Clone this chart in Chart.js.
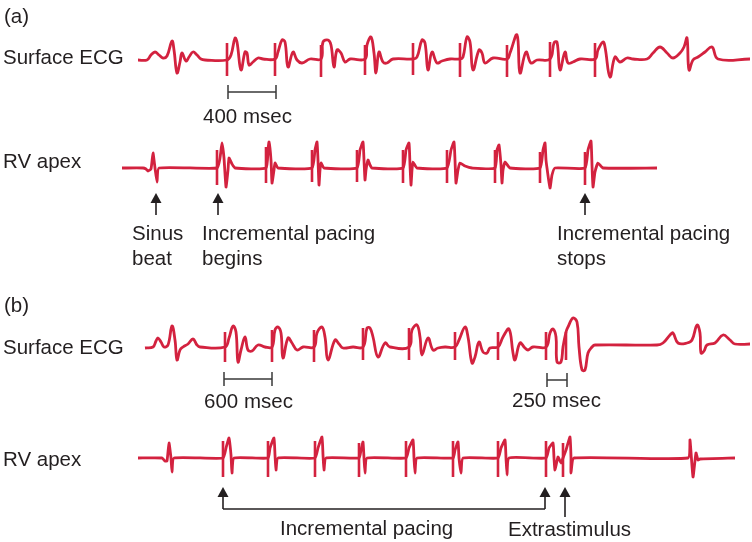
<!DOCTYPE html>
<html>
<head>
<meta charset="utf-8">
<script src="https://cdn.jsdelivr.net/npm/chart.js@4"></script>
<style>
html, body { margin: 0; padding: 0; background: #fff; }
#ecg { display: block; }
</style>
</head>
<body>
<canvas id="ecg" width="752" height="542"></canvas>
<script>
// traces as [time, level] (figure units)

// (a) surface ECG
const surfaceA = [
  [138,60],[147,60],[151,55],[155,52],[159,55],[163,58],[167,56],[172,41],[174,50],[177,73],[180,62],[182,53],[186,61],[189,57],[193,52],[197,55],[201,59],[205,60],[227,60],
  [231,55],[235,38],[237,42],[241,70],[245,52],[247,53],[249,65],[253,62],[258,58],[263,59],[275,59],
  [278,52],[282,40],[285,42],[288,67],[293,52],[297,60],[302,63],[310,59],[321,59],
  [323,42],[328,40],[331,45],[334,67],[337,50],[341,53],[345,62],[350,59],[365,59],
  [367,45],[371,37],[374,53],[376,73],[379,52],[383,62],[387,63],[393,59],[413,59],
  [417,57],[422,40],[425,43],[428,70],[432,52],[437,63],[442,61],[450,59],[460,59],
  [463,57],[467,37],[470,42],[473,70],[479,50],[482,53],[485,63],[493,58],[507,59],
  [510,53],[517,35],[520,73],[526,52],[531,63],[537,60],[550,59],
  [554,43],[557,42],[560,70],[565,52],[568,63],[573,62],[580,59],[595,59],
  [598,50],[603,42],[605,47],[610,77],[615,57],[620,62],[627,58],[633,59],[647,59],
  [653,53],[660,47],[667,53],[673,58],[680,53],[684,47],[687,38],[689,70],[693,60],[698,57],[705,52],[712,47],[718,59],[750,59]
];
// pacing artefacts: [time, top, bottom]
const spikesSurfaceA = [[227,43,76],[275,43,76],[321,45,77],[365,45,75],[413,43,75],[460,43,77],[507,45,77],[550,42,77],[595,43,77]];

// (a) RV apex
const rvA = [
  [122,168],[143,168],[146,169],[148,171],[151,169],[153,153],[155,168],[157,182],[159,168],[217,168],
  [220,158],[222,143],[224,158],[226,187],[228,170],[229,158],[232,164],[235,168],[266,168],
  [268,150],[269,142],[271,160],[272,183],[274,170],[275,163],[278,168],[312,168],
  [315,150],[317,142],[318,160],[319,185],[320,170],[321,163],[324,168],[357,168],
  [360,150],[363,142],[364,160],[365,180],[366,170],[368,160],[370,165],[372,168],[403,168],
  [406,150],[409,143],[410,165],[411,185],[412,170],[413,162],[417,168],[447,168],
  [451,150],[454,142],[455,160],[456,183],[458,170],[460,163],[465,166],[472,168],[495,168],
  [497,150],[499,145],[501,165],[502,183],[503,170],[505,162],[510,168],[540,168],
  [543,150],[545,143],[546,160],[547,168],[550,188],[552,175],[555,168],[585,168],
  [588,150],[591,141],[592,165],[593,187],[595,172],[598,163],[603,168],[657,168]
];
const spikesRvA = [[217,150,185],[266,147,183],[312,150,182],[357,150,182],[403,150,183],[447,150,183],[495,150,183],[540,152,183],[585,152,185]];

// (b) surface ECG
const surfaceB = [
  [145,348],[153,347],[156,341],[158,338],[161,342],[164,347],[168,345],[172,326],[175,340],[177,360],[180,350],[183,347],[188,344],[193,339],[197,345],[200,347],[225,347],
  [229,338],[233,326],[236,332],[238,362],[241,350],[245,337],[248,350],[252,351],[258,345],[265,347],[272,347],
  [275,330],[278,327],[281,333],[283,358],[288,338],[292,343],[297,350],[303,347],[314,347],
  [317,333],[322,327],[325,337],[328,360],[335,340],[339,344],[343,348],[353,347],[363,347],
  [367,328],[370,328],[373,337],[378,357],[385,343],[390,347],[409,347],
  [412,330],[417,325],[420,337],[422,355],[428,338],[433,350],[438,348],[445,347],[455,347],
  [459,340],[465,327],[468,337],[472,363],[475,357],[479,342],[483,352],[487,353],[490,348],[498,347],
  [503,337],[509,329],[513,353],[515,360],[520,343],[525,348],[528,350],[533,347],[546,347],
  [550,333],[553,329],[556,337],[557,362],[561,362],[563,347],[566,332],
  [568,327],[573,318],[577,322],[579,347],[582,370],[585,370],[588,353],[592,347],[595,345],[657,345],
  [663,343],[670,335],[673,333],[678,343],[687,343],[692,340],[697,325],[700,333],[701,353],[704,351],[707,345],[715,343],[723,335],[730,340],[735,344],[750,344]
];
const spikesSurfaceB = [[225,332,362],[272,330,362],[314,330,362],[363,328,360],[409,328,360],[455,332,360],[498,332,360],[546,332,360],[566,332,360]];

// (b) RV apex
const rvB = [
  [138,458],[162,458],[165,461],[167,461],[169,443],[171,458],[172,472],[174,458],[223,458],
  [226,448],[229,438],[231,455],[232,473],[234,458],[268,458],
  [270,448],[274,438],[275,455],[276,470],[278,458],[315,458],
  [318,448],[322,437],[323,455],[324,470],[326,458],[359,458],
  [361,450],[363,442],[364,458],[365,473],[367,458],[406,458],
  [409,448],[413,440],[414,458],[415,473],[417,458],[453,458],
  [455,450],[458,442],[459,458],[461,473],[463,458],[498,458],
  [501,448],[505,440],[506,458],[507,475],[509,458],[546,458],
  [549,448],[553,443],[554,458],[555,470],[558,457],[561,463],[563,458],
  [566,450],[570,437],[571,458],[571,473],[574,458],[688,458],
  [690,440],[693,477],[696,453],[698,460],[700,459],[735,458]
];
const spikesRvB = [[223,441,477],[268,441,477],[315,441,477],[359,443,477],[406,441,477],[453,441,477],[498,441,477],[546,441,477],[563,443,477]];

// text and markings
const texts = [
  ['(a)', 4, 23], ['Surface ECG', 3, 64], ['400 msec', 203, 123], ['RV apex', 3, 168],
  ['Sinus', 132, 240], ['beat', 132, 265], ['Incremental pacing', 202, 240], ['begins', 202, 265],
  ['Incremental pacing', 557, 240], ['stops', 557, 265],
  ['(b)', 4, 312], ['Surface ECG', 3, 354], ['600 msec', 204, 408], ['250 msec', 512, 407],
  ['RV apex', 3, 466], ['Incremental pacing', 280, 535], ['Extrastimulus', 508, 536]
];
// up arrows: [x, tip, foot]
const arrows = [[156,193,215],[218,193,215],[585,193,215],[223,487,509],[545,487,509],[565,487,517]];
// scale bars: [from, to, y, tick half height]
const scaleBars = [[228,276,92,7],[224,272,379,7],[547,567,380,7]];

const RED = '#d3223f';
const INK = '#231f20';
const FONT = '20.5px Arial, "Liberation Sans", Helvetica, sans-serif';

function toPoints(arr) {
  return arr.map(p => ({x: p[0], y: p[1]}));
}
function spikePoints(arr) {
  const out = [];
  arr.forEach(s => {
    out.push({x: s[0], y: s[1]}, {x: s[0], y: s[2]}, {x: s[0], y: null});
  });
  return out;
}
function trace(arr, tension) {
  return {data: toPoints(arr), borderColor: RED, borderWidth: 2.8, tension: tension, pointRadius: 0, fill: false};
}
function spikes(arr) {
  return {data: spikePoints(arr), borderColor: RED, borderWidth: 2.6, tension: 0, pointRadius: 0, spanGaps: false, fill: false};
}

const marks = {
  id: 'marks',
  afterDatasetsDraw(chart) {
    const ctx = chart.ctx;
    const sx = chart.scales.x, sy = chart.scales.y;
    const px = v => sx.getPixelForValue(v);
    const py = v => sy.getPixelForValue(v);
    ctx.save();
    ctx.fillStyle = INK;
    ctx.font = FONT;
    ctx.textBaseline = 'alphabetic';
    ctx.textAlign = 'left';
    texts.forEach(t => ctx.fillText(t[0], px(t[1]), py(t[2])));

    ctx.strokeStyle = INK;
    ctx.lineWidth = 1.6;
    arrows.forEach(a => {
      ctx.beginPath();
      ctx.moveTo(px(a[0]), py(a[1]) + 8);
      ctx.lineTo(px(a[0]), py(a[2]));
      ctx.stroke();
      ctx.beginPath();
      ctx.moveTo(px(a[0]), py(a[1]));
      ctx.lineTo(px(a[0]) - 5.5, py(a[1]) + 10);
      ctx.lineTo(px(a[0]) + 5.5, py(a[1]) + 10);
      ctx.closePath();
      ctx.fill();
    });
    // bracket joining the pacing arrows
    ctx.beginPath();
    ctx.moveTo(px(223), py(509));
    ctx.lineTo(px(545), py(509));
    ctx.stroke();

    ctx.strokeStyle = '#3a3a3a';
    ctx.lineWidth = 1.5;
    scaleBars.forEach(b => {
      ctx.beginPath();
      ctx.moveTo(px(b[0]), py(b[2]));
      ctx.lineTo(px(b[1]), py(b[2]));
      ctx.moveTo(px(b[0]), py(b[2] - b[3]));
      ctx.lineTo(px(b[0]), py(b[2] + b[3]));
      ctx.moveTo(px(b[1]), py(b[2] - b[3]));
      ctx.lineTo(px(b[1]), py(b[2] + b[3]));
      ctx.stroke();
    });
    ctx.restore();
  }
};

function draw() {
  new Chart(document.getElementById('ecg'), {
    type: 'line',
    data: {
      datasets: [
        trace(surfaceA, 0.4), spikes(spikesSurfaceA),
        trace(rvA, 0.15), spikes(spikesRvA),
        trace(surfaceB, 0.4), spikes(spikesSurfaceB),
        trace(rvB, 0.15), spikes(spikesRvB)
      ]
    },
    options: {
      responsive: false,
      animation: false,
      layout: {padding: 0},
      plugins: {legend: {display: false}, tooltip: {enabled: false}},
      scales: {
        x: {type: 'linear', min: 0, max: 752, display: false},
        y: {type: 'linear', min: 0, max: 542, reverse: true, display: false}
      }
    },
    plugins: [marks]
  });
}

if (document.fonts && document.fonts.load) {
  document.fonts.load(FONT).then(draw, draw);
} else {
  draw();
}
</script>
</body>
</html>
